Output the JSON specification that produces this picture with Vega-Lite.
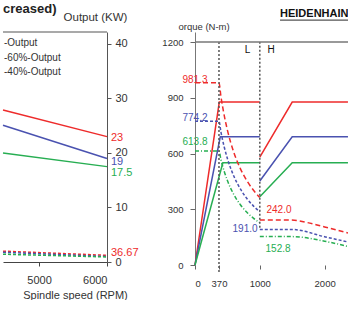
{
  "$schema": "https://vega.github.io/schema/vega-lite/v6.json",
  "padding": {"left": 0, "top": 3, "right": 0, "bottom": 0},
  "spacing": 88,
  "bounds": "flush",
  "config": {
    "font": "Liberation Sans",
    "view": {"stroke": null},
    "axis": {"grid": false, "labelColor": "#333", "titleColor": "#333", "domainColor": "#666", "tickColor": "#666", "titleFontWeight": "normal"}
  },
  "datasets": {
    "one": [{}],
    "out": [
      {"rpm": 4470, "kw": 27.9, "s": "Output"}, {"rpm": 6000, "kw": 23, "s": "Output"},
      {"rpm": 4470, "kw": 25.1, "s": "60%-Output"}, {"rpm": 6000, "kw": 19, "s": "60%-Output"},
      {"rpm": 4470, "kw": 20.0, "s": "40%-Output"}, {"rpm": 6000, "kw": 17.5, "s": "40%-Output"}
    ],
    "outTq": [
      {"rpm": 4470, "nm": 59.6, "s": "Output"}, {"rpm": 6000, "nm": 36.67, "s": "Output"},
      {"rpm": 4470, "nm": 53.6, "s": "60%-Output"}, {"rpm": 6000, "nm": 30.2, "s": "60%-Output"},
      {"rpm": 4470, "nm": 42.7, "s": "40%-Output"}, {"rpm": 6000, "nm": 27.9, "s": "40%-Output"}
    ],
    "outLab": [
      {"rpm": 6000, "kw": 22.8, "t": "23", "s": "Output"},
      {"rpm": 6000, "kw": 18.3, "t": "19", "s": "60%-Output"},
      {"rpm": 6000, "kw": 16.4, "t": "17.5", "s": "40%-Output"},
      {"rpm": 6000, "kw": 1.74, "t": "36.67", "s": "Output"}
    ],
    "legTxt": [
      {"rpm": 4470, "kw": 40.2, "t": "-Output"},
      {"rpm": 4470, "kw": 37.4, "t": "-60%-Output"},
      {"rpm": 4470, "kw": 34.9, "t": "-40%-Output"}
    ],
    "solid": [
      {"sp": 0, "tq": 0, "s": "Output", "seg": "L"}, {"sp": 375, "tq": 877, "s": "Output", "seg": "L"}, {"sp": 1000, "tq": 877, "s": "Output", "seg": "L"},
      {"sp": 1000, "tq": 581, "s": "Output", "seg": "H"}, {"sp": 1500, "tq": 877, "s": "Output", "seg": "H"}, {"sp": 2360, "tq": 877, "s": "Output", "seg": "H"},
      {"sp": 0, "tq": 0, "s": "60%-Output", "seg": "L"}, {"sp": 390, "tq": 690, "s": "60%-Output", "seg": "L"}, {"sp": 1000, "tq": 690, "s": "60%-Output", "seg": "L"},
      {"sp": 1000, "tq": 452, "s": "60%-Output", "seg": "H"}, {"sp": 1500, "tq": 690, "s": "60%-Output", "seg": "H"}, {"sp": 2360, "tq": 690, "s": "60%-Output", "seg": "H"},
      {"sp": 0, "tq": 0, "s": "40%-Output", "seg": "L"}, {"sp": 430, "tq": 550, "s": "40%-Output", "seg": "L"}, {"sp": 1000, "tq": 550, "s": "40%-Output", "seg": "L"},
      {"sp": 1000, "tq": 367, "s": "40%-Output", "seg": "H"}, {"sp": 1500, "tq": 550, "s": "40%-Output", "seg": "H"}, {"sp": 2360, "tq": 550, "s": "40%-Output", "seg": "H"}
    ],
    "dash": [
      {"sp": 0, "tq": 981.3, "s": "Output", "seg": "L"}, {"sp": 370, "tq": 981.3, "s": "Output", "seg": "L"}, {"sp": 400, "tq": 907.7, "s": "Output", "seg": "L"}, {"sp": 450, "tq": 806.8, "s": "Output", "seg": "L"}, {"sp": 500, "tq": 726.2, "s": "Output", "seg": "L"}, {"sp": 600, "tq": 605.1, "s": "Output", "seg": "L"}, {"sp": 700, "tq": 518.7, "s": "Output", "seg": "L"}, {"sp": 800, "tq": 453.9, "s": "Output", "seg": "L"}, {"sp": 900, "tq": 403.4, "s": "Output", "seg": "L"}, {"sp": 1000, "tq": 363.1, "s": "Output", "seg": "L"},
      {"sp": 0, "tq": 774.2, "s": "60%-Output", "seg": "L"}, {"sp": 370, "tq": 774.2, "s": "60%-Output", "seg": "L"}, {"sp": 400, "tq": 716.1, "s": "60%-Output", "seg": "L"}, {"sp": 450, "tq": 636.6, "s": "60%-Output", "seg": "L"}, {"sp": 500, "tq": 572.9, "s": "60%-Output", "seg": "L"}, {"sp": 600, "tq": 477.4, "s": "60%-Output", "seg": "L"}, {"sp": 700, "tq": 409.2, "s": "60%-Output", "seg": "L"}, {"sp": 800, "tq": 358.1, "s": "60%-Output", "seg": "L"}, {"sp": 900, "tq": 318.3, "s": "60%-Output", "seg": "L"}, {"sp": 1000, "tq": 286.5, "s": "60%-Output", "seg": "L"},
      {"sp": 0, "tq": 613.8, "s": "40%-Output", "seg": "L"}, {"sp": 370, "tq": 613.8, "s": "40%-Output", "seg": "L"}, {"sp": 400, "tq": 567.8, "s": "40%-Output", "seg": "L"}, {"sp": 450, "tq": 504.7, "s": "40%-Output", "seg": "L"}, {"sp": 500, "tq": 454.2, "s": "40%-Output", "seg": "L"}, {"sp": 600, "tq": 378.5, "s": "40%-Output", "seg": "L"}, {"sp": 700, "tq": 324.4, "s": "40%-Output", "seg": "L"}, {"sp": 800, "tq": 283.9, "s": "40%-Output", "seg": "L"}, {"sp": 900, "tq": 252.3, "s": "40%-Output", "seg": "L"}, {"sp": 1000, "tq": 227.1, "s": "40%-Output", "seg": "L"},
      {"sp": 1000, "tq": 242.0, "s": "Output", "seg": "H"}, {"sp": 1450, "tq": 242.0, "s": "Output", "seg": "H"}, {"sp": 2000, "tq": 205, "s": "Output", "seg": "H"}, {"sp": 2360, "tq": 172, "s": "Output", "seg": "H"},
      {"sp": 1000, "tq": 191.0, "s": "60%-Output", "seg": "H"}, {"sp": 1500, "tq": 191.0, "s": "60%-Output", "seg": "H"}, {"sp": 2000, "tq": 152, "s": "60%-Output", "seg": "H"}, {"sp": 2360, "tq": 124, "s": "60%-Output", "seg": "H"},
      {"sp": 1000, "tq": 152.8, "s": "40%-Output", "seg": "H"}, {"sp": 1500, "tq": 152.8, "s": "40%-Output", "seg": "H"}, {"sp": 2000, "tq": 128, "s": "40%-Output", "seg": "H"}, {"sp": 2360, "tq": 100, "s": "40%-Output", "seg": "H"}
    ],
    "vlines": [
      {"sp": 370, "lo": -38, "hi": 1200},
      {"sp": 1000, "lo": 200, "hi": 1200}
    ],
    "rlab": [
      {"sp": 0, "tq": 995, "t": "981.3", "s": "Output"},
      {"sp": 0, "tq": 791, "t": "774.2", "s": "60%-Output"},
      {"sp": 0, "tq": 662, "t": "613.8", "s": "40%-Output"},
      {"sp": 1296, "tq": 296, "t": "242.0", "s": "Output"},
      {"sp": 772, "tq": 194, "t": "191.0", "s": "60%-Output"},
      {"sp": 1281, "tq": 86, "t": "152.8", "s": "40%-Output"}
    ],
    "lh": [
      {"sp": 810, "tq": 1157, "t": "L"},
      {"sp": 1173, "tq": 1157, "t": "H"}
    ]
  },
  "hconcat": [
    {
      "width": 104,
      "height": 230,
      "resolve": {"scale": {"y": "independent"}},
      "layer": [
        {
          "data": {"name": "out"},
          "mark": {"type": "line", "strokeWidth": 1.5},
          "encoding": {
            "x": {"field": "rpm", "type": "quantitative", "scale": {"domain": [4470, 6000], "nice": false, "zero": false},
                  "axis": {"values": [5000, 6000], "format": "d", "tickSize": 4, "labelFontSize": 11, "labelPadding": 8, "title": "Spindle speed (RPM)", "titleFontSize": 11, "titleX": 72, "titlePadding": 4, "domainColor": "#444", "tickColor": "#444"}},
            "y": {"field": "kw", "type": "quantitative", "scale": {"domain": [0, 42.2], "nice": false},
                  "axis": {"orient": "right", "values": [0, 10, 20, 30, 40], "tickSize": 4, "labelPadding": 4, "labelFontSize": 11, "domainColor": "#555", "tickColor": "#555", "title": "Output (KW)", "titleAngle": 0, "titleX": -12, "titleY": -12, "titleAlign": "center", "titleBaseline": "alphabetic", "titleFontSize": 11.5}},
            "color": {"field": "s", "type": "nominal", "scale": {"domain": ["Output", "60%-Output", "40%-Output"], "range": ["#ee2b2b", "#4a52b0", "#27ae52"]}, "legend": null}
          }
        },
        {
          "data": {"name": "outTq"},
          "mark": {"type": "line", "strokeWidth": 1.5, "strokeDash": [3, 2]},
          "encoding": {
            "x": {"field": "rpm", "type": "quantitative"},
            "y": {"field": "nm", "type": "quantitative", "scale": {"domain": [0, 1266], "nice": false}, "axis": null},
            "color": {"field": "s", "type": "nominal", "legend": null}
          }
        },
        {
          "data": {"name": "one"},
          "mark": {"type": "rule", "color": "#555", "strokeWidth": 1.2},
          "encoding": {
            "y": {"datum": 42.2, "scale": {"domain": [0, 42.2], "nice": false}, "axis": null}
          }
        },
        {
          "data": {"name": "one"},
          "mark": {"type": "text", "align": "left", "baseline": "middle", "fontSize": 13, "fontWeight": "bold", "color": "#222"},
          "encoding": {
            "x": {"datum": 4470},
            "y": {"datum": 46.4, "scale": {"domain": [0, 42.2], "nice": false}, "axis": null},
            "text": {"value": "creased)"}
          }
        },
        {
          "data": {"name": "outLab"},
          "mark": {"type": "text", "align": "left", "baseline": "middle", "dx": 4, "fontSize": 11},
          "encoding": {
            "x": {"field": "rpm", "type": "quantitative"},
            "y": {"field": "kw", "type": "quantitative", "scale": {"domain": [0, 42.2], "nice": false}, "axis": null},
            "text": {"field": "t"},
            "color": {"field": "s", "type": "nominal", "legend": null}
          }
        },
        {
          "data": {"name": "legTxt"},
          "mark": {"type": "text", "align": "left", "baseline": "middle", "dx": 1, "fontSize": 10, "color": "#333"},
          "encoding": {
            "x": {"field": "rpm", "type": "quantitative"},
            "y": {"field": "kw", "type": "quantitative", "scale": {"domain": [0, 42.2], "nice": false}, "axis": null},
            "text": {"field": "t"}
          }
        }
      ]
    },
    {
      "width": 156,
      "height": 233,
      "layer": [
        {
          "data": {"name": "solid"},
          "mark": {"type": "line", "strokeWidth": 1.5},
          "encoding": {
            "x": {"field": "sp", "type": "quantitative", "scale": {"domain": [0, 2407], "nice": false, "zero": false},
                  "axis": {"values": [0, 370, 1000, 2000], "format": "d", "domain": false, "tickSize": 4, "labelPadding": 9, "labelFontSize": 9.5, "title": null}},
            "y": {"field": "tq", "type": "quantitative", "scale": {"domain": [0, 1254], "nice": false},
                  "axis": {"values": [0, 300, 600, 900, 1200], "format": "d", "tickSize": 5, "labelPadding": 7, "labelFontSize": 9.5, "domainColor": "#777", "title": "orque (N-m)", "titleAngle": 0, "titleAlign": "left", "titleX": -17, "titleY": -3, "titleBaseline": "alphabetic", "titleFontSize": 9.5}},
            "color": {"field": "s", "type": "nominal", "scale": {"domain": ["Output", "60%-Output", "40%-Output"], "range": ["#ee2b2b", "#4a52b0", "#27ae52"]}, "legend": null},
            "detail": {"field": "seg"}
          }
        },
        {
          "data": {"name": "dash"},
          "mark": {"type": "line", "strokeWidth": 1.5, "interpolate": "monotone"},
          "encoding": {
            "x": {"field": "sp", "type": "quantitative"},
            "y": {"field": "tq", "type": "quantitative"},
            "color": {"field": "s", "type": "nominal", "legend": null},
            "strokeDash": {"field": "s", "type": "nominal", "scale": {"domain": ["Output", "60%-Output", "40%-Output"], "range": [[5, 3], [3, 2], [4, 2, 1, 2]]}, "legend": null},
            "detail": {"field": "seg"}
          }
        },
        {
          "data": {"name": "vlines"},
          "mark": {"type": "rule", "color": "#555", "strokeWidth": 1.5, "strokeDash": [2, 2]},
          "encoding": {
            "x": {"field": "sp", "type": "quantitative"},
            "y": {"field": "lo", "type": "quantitative"},
            "y2": {"field": "hi"}
          }
        },
        {
          "data": {"name": "one"},
          "mark": {"type": "rule", "color": "#777", "strokeWidth": 1.5},
          "encoding": {
            "y": {"datum": 1200}
          }
        },
        {
          "data": {"name": "one"},
          "mark": {"type": "text", "align": "left", "baseline": "middle", "fontSize": 11, "fontWeight": "bold", "color": "#111"},
          "encoding": {
            "x": {"datum": 1312},
            "y": {"datum": 1353},
            "text": {"value": "HEIDENHAIN"}
          }
        },
        {
          "data": {"name": "one"},
          "mark": {"type": "rule", "color": "#555", "strokeWidth": 1.2},
          "encoding": {
            "x": {"datum": 1312},
            "x2": {"datum": 2407},
            "y": {"datum": 1318}
          }
        },
        {
          "data": {"name": "rlab"},
          "mark": {"type": "text", "fontSize": 10, "baseline": "middle"},
          "encoding": {
            "x": {"field": "sp", "type": "quantitative"},
            "y": {"field": "tq", "type": "quantitative"},
            "text": {"field": "t"},
            "color": {"field": "s", "type": "nominal", "legend": null},
            "align": {"condition": {"test": "datum.sp == 0", "value": "right"}, "value": "center"},
            "dx": {"condition": {"test": "datum.sp == 0", "value": -5}, "value": 0}
          }
        },
        {
          "data": {"name": "lh"},
          "mark": {"type": "text", "fontSize": 10, "baseline": "middle", "color": "#111"},
          "encoding": {
            "x": {"field": "sp", "type": "quantitative"},
            "y": {"field": "tq", "type": "quantitative"},
            "text": {"field": "t"}
          }
        }
      ]
    }
  ]
}
